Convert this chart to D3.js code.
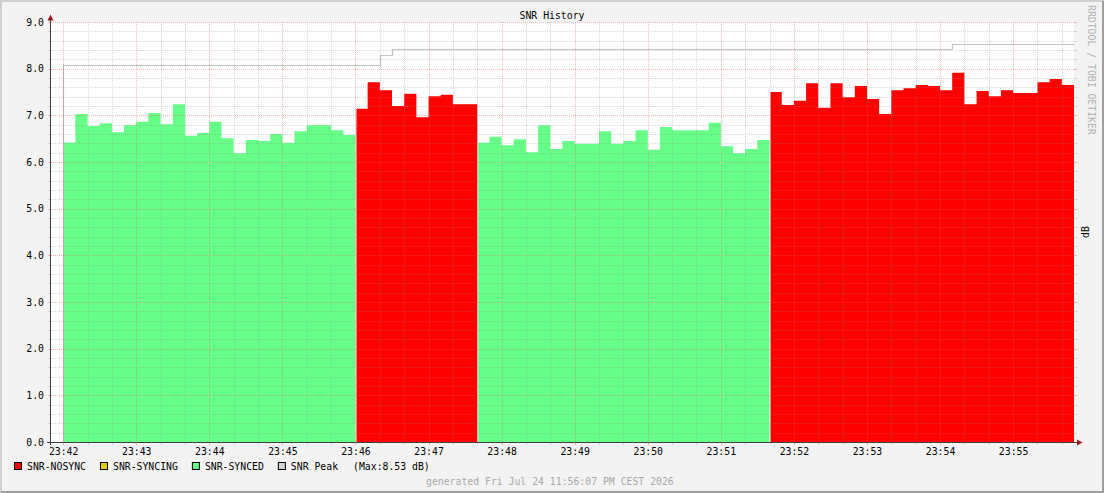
<!DOCTYPE html>
<html>
<head>
<meta charset="utf-8">
<script src="https://cdn.jsdelivr.net/npm/d3@7"></script>
<style>
  body { margin: 0; background: #f3f3f3; }
  svg text { font-family: "DejaVu Sans Mono", monospace; }
</style>
</head>
<body>
<div id="chart"></div>
<script>
//************* data ***************/
var startTime = "2026-07-24T23:42:00";
var stepSeconds = 10;

// one value per 10 s step, 23:42:00 .. 23:55:50
var snrValues = [
  6.42,7.03,6.77,6.83,6.64,6.79,6.86,7.05,6.81,7.24,6.56,6.62,6.86,6.51,6.19,6.47,6.45,6.60,6.41,6.66,6.79,6.79,6.68,6.58,
  7.14,7.71,7.54,7.20,7.46,6.96,7.41,7.44,7.24,7.24,
  6.41,6.54,6.36,6.49,6.21,6.79,6.28,6.45,6.39,6.39,6.66,6.39,6.45,6.68,6.26,6.75,6.68,6.68,6.68,6.84,6.34,6.19,6.28,6.47,
  7.50,7.22,7.31,7.69,7.16,7.69,7.39,7.63,7.35,7.03,7.54,7.58,7.65,7.63,7.54,7.91,7.24,7.52,7.41,7.54,7.48,7.48,7.71,7.78,7.65
];
var segmentStates = ["SYNCED", "NOSYNC", "SYNCED", "NOSYNC"];
var segmentSteps = [24, 10, 24, 25];

// peak line: step index where it changes, and level
var peakSteps = [0, 26, 27, 73];
var peakLevels = [8.07, 8.29, 8.42, 8.53];
var peakMax = 8.53;

var legendNames = ["SNR-NOSYNC", "SNR-SYNCING", "SNR-SYNCED", "SNR Peak"];
var legendKeys = ["NOSYNC", "SYNCING", "SYNCED", "PEAK"];

//************* set dimensions ***************/
var W = 1104, H = 493;
var plot = {left: 51, right: 1074, top: 22, bottom: 442};

var color = {NOSYNC: "#ff0000", SYNCING: "#e0d000", SYNCED: "#66ff88", PEAK: "#d6d6d6"};

var svg = d3.select("#chart").append("svg")
  .attr("width", W).attr("height", H);

// background + 3d frame
svg.append("rect").attr("width", W).attr("height", H).attr("fill", "#f3f3f3");
svg.append("path").attr("d", "M1,"+H+"V1H"+W).attr("fill", "none").attr("stroke", "#cfcfcf").attr("stroke-width", 2);
svg.append("path").attr("d", "M1,"+(H-1)+"H"+(W-1)+"V1").attr("fill", "none").attr("stroke", "#9e9e9e").attr("stroke-width", 2);

svg.append("rect")
  .attr("x", plot.left).attr("y", plot.top)
  .attr("width", plot.right - plot.left).attr("height", plot.bottom - plot.top)
  .attr("fill", "#ffffff");

//************* scales ***************/
var t0 = new Date(startTime);
var sec = function(s) { return new Date(t0.getTime() + s * 1000); };

var x = d3.scaleTime()
  .domain([sec(-10), sec(830)])
  .range([plot.left, plot.right]);

var y = d3.scaleLinear()
  .domain([0, 9])
  .range([plot.bottom, plot.top]);

//************* areas ***************/
var area = d3.area()
  .curve(d3.curveStepAfter)
  .x(function(d) { return x(sec(d.s)) + (d.gap || 0); })
  .y0(y(0))
  .y1(function(d) { return y(d.v); });

var pos = 0;
segmentStates.forEach(function(state, k) {
  var pts = [];
  for (var i = pos; i < pos + segmentSteps[k]; i++) {
    pts.push({s: i * stepSeconds, v: snrValues[i], gap: i === pos && k > 0 ? 1 : 0});
  }
  var last = pos + segmentSteps[k] - 1;
  pts.push({s: (last + 1) * stepSeconds, v: snrValues[last]});
  svg.append("path")
    .datum(pts)
    .attr("fill", color[state])
    .attr("d", area);
  pos += segmentSteps[k];
});

//************* peak line ***************/
var peakPts = [{s: 0, v: 0}];
peakSteps.forEach(function(st, i) { peakPts.push({s: st * stepSeconds, v: peakLevels[i]}); });
peakPts.push({s: snrValues.length * stepSeconds, v: peakLevels[peakLevels.length - 1]});

svg.append("path")
  .datum(peakPts)
  .attr("fill", "none")
  .attr("stroke", "#c2c2c2")
  .attr("stroke-width", 1.2)
  .attr("d", d3.line().curve(d3.curveStepAfter)
    .x(function(d) { return Math.round(x(sec(d.s))) + 0.5; })
    .y(function(d) { return Math.round(y(d.v)) + 0.5; }));

//************* grid ***************/
var minorCol = "rgba(140,140,140,0.32)", majorCol = "rgba(235,90,90,0.42)";
var grid = svg.append("g").attr("stroke-width", 1).attr("fill", "none");

// vertical: minor every 20 s, major every minute
d3.range(0, 831, 20).forEach(function(s) {
  var major = s % 60 === 0;
  var xx = Math.round(x(sec(s))) + 0.5;
  var c = major ? majorCol : minorCol;
  grid.append("line").attr("x1", xx).attr("x2", xx).attr("y1", plot.top).attr("y2", plot.bottom)
    .attr("stroke", c).attr("stroke-dasharray", "1,1");
  grid.append("line").attr("x1", xx).attr("x2", xx).attr("y1", plot.bottom).attr("y2", plot.bottom + 3)
    .attr("stroke", c);
});

// horizontal: minor every 0.2, major every 1
d3.range(1, 46).forEach(function(k) {
  var v = k / 5, major = k % 5 === 0;
  var yy = Math.round(y(v)) + 0.5;
  var c = major ? majorCol : minorCol;
  grid.append("line").attr("x1", plot.left).attr("x2", plot.right).attr("y1", yy).attr("y2", yy)
    .attr("stroke", c).attr("stroke-dasharray", "1,1");
  grid.append("line").attr("x1", plot.left - 3).attr("x2", plot.left).attr("y1", yy).attr("y2", yy).attr("stroke", c);
  grid.append("line").attr("x1", plot.right).attr("x2", plot.right + 3).attr("y1", yy).attr("y2", yy).attr("stroke", c);
});

//************* axes ***************/
var axisCol = "#404040", arrowCol = "#9b1c1c";
svg.append("line").attr("x1", 50.5).attr("x2", 50.5).attr("y1", plot.bottom + 3).attr("y2", 17)
  .attr("stroke", axisCol);
svg.append("line").attr("x1", 47).attr("x2", 1078).attr("y1", 442.5).attr("y2", 442.5)
  .attr("stroke", axisCol);
svg.append("path").attr("d", "M47.5,20.5L53.5,20.5L50.5,14.5Z").attr("fill", arrowCol);
svg.append("path").attr("d", "M1077,439.5L1077,445.5L1082.5,442.5Z").attr("fill", arrowCol);

// y labels
var yAxis = d3.axisLeft(y).ticks(9).tickFormat(d3.format(".1f")).tickSize(0).tickPadding(7);
var gy = svg.append("g").attr("transform", "translate(" + plot.left + ",0)").call(yAxis);
gy.select(".domain").remove();
gy.selectAll("text").attr("font-family", "DejaVu Sans Mono").attr("font-size", "9.8px").attr("fill", "#000");

// x labels
var xAxis = d3.axisBottom(x).ticks(d3.timeMinute.every(1)).tickFormat(d3.timeFormat("%H:%M")).tickSize(0).tickPadding(6);
var gx = svg.append("g").attr("transform", "translate(0," + plot.bottom + ")").call(xAxis);
gx.select(".domain").remove();
gx.selectAll("text").attr("font-family", "DejaVu Sans Mono").attr("font-size", "9.8px").attr("fill", "#000");

//***************** titles *******************/
svg.append("text")
  .attr("x", W / 2).attr("y", 19)
  .attr("text-anchor", "middle")
  .attr("font-size", "9.8px")
  .text("SNR History");

svg.append("text")
  .attr("transform", "translate(1088,5) rotate(90)")
  .attr("font-size", "9.8px")
  .attr("fill", "#b4b4b4")
  .text("RRDTOOL / TOBI OETIKER");

svg.append("text")
  .attr("transform", "translate(1089,232) rotate(-90)")
  .attr("text-anchor", "middle")
  .attr("font-size", "9.8px")
  .text("dB");

//*************** legend *****************/
var lx = 14;
legendNames.forEach(function(name, i) {
  var g = svg.append("g");
  g.append("rect")
    .attr("x", lx + 0.5).attr("y", 462.5).attr("width", 7).attr("height", 7)
    .attr("fill", color[legendKeys[i]]).attr("stroke", "#000");
  var t = g.append("text")
    .attr("x", lx + 13).attr("y", 470)
    .attr("font-size", "9.8px")
    .text(name);
  var w = t.node().getComputedTextLength();
  if (legendKeys[i] === "PEAK") {
    g.append("text")
      .attr("x", lx + 13 + w + 15).attr("y", 470)
      .attr("font-size", "9.8px")
      .text("(Max:" + peakMax.toFixed(2) + " dB)");
  }
  lx += 13 + w + 14;
});

svg.append("text")
  .attr("x", 426).attr("y", 485)
  .attr("font-size", "9.8px")
  .attr("fill", "#a8a8a8")
  .text("generated Fri Jul 24 11:56:07 PM CEST 2026");
</script>
</body>
</html>
